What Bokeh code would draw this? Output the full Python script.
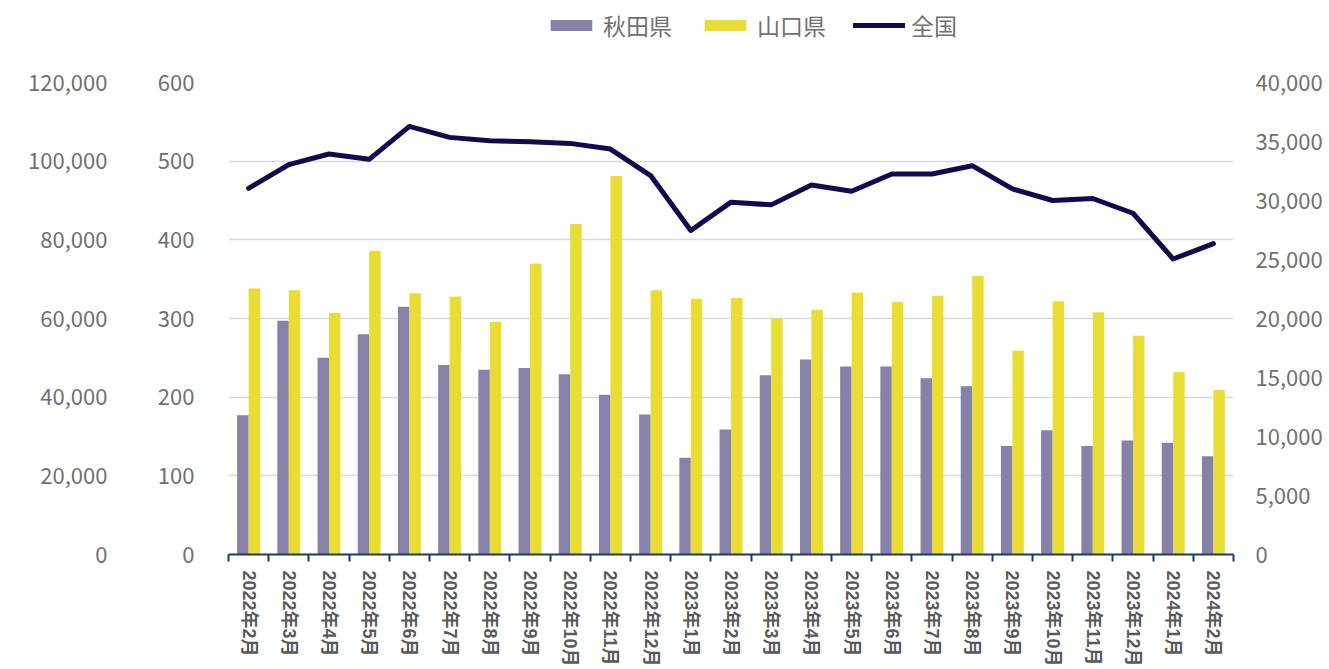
import numpy as np
from bokeh.plotting import figure
from bokeh.layouts import column
from bokeh.models import (Range1d, LinearAxis, FixedTicker, SingleIntervalTicker,
                          NumeralTickFormatter, Legend, LegendItem)
from bokeh.embed import file_html
from bokeh.resources import INLINE

months = ["2022年2月", "2022年3月", "2022年4月", "2022年5月", "2022年6月", "2022年7月",
          "2022年8月", "2022年9月", "2022年10月", "2022年11月", "2022年12月", "2023年1月",
          "2023年2月", "2023年3月", "2023年4月", "2023年5月", "2023年6月", "2023年7月",
          "2023年8月", "2023年9月", "2023年10月", "2023年11月", "2023年12月", "2024年1月",
          "2024年2月"]
akita = [177, 297, 250, 280, 315, 241, 235, 237, 229, 203, 178, 123, 159,
         228, 248, 239, 239, 224, 214, 138, 158, 138, 145, 142, 125]
yamaguchi = [338, 336, 307, 386, 332, 328, 296, 370, 420, 481, 336, 325, 326,
             300, 311, 333, 321, 329, 354, 259, 322, 308, 278, 232, 209]
national = [31035, 33040, 33940, 33490, 36280, 35350, 35070, 34980, 34840, 34360,
            32110, 27460, 29860, 29630, 31320, 30780, 32250, 32250, 32950, 30980,
            30000, 30170, 28920, 25040, 26340]
series_names = ["秋田県", "山口県", "全国"]

x = np.arange(len(months))
n = len(months)

GRAY = "#707070"
YFONT = "Noto Sans CJK JP"
C_AKITA = "#8780A8"
C_YAMA = "#E9DD33"
C_NAT = "#120A4F"

LEG_H = 56

# ---------------- main chart ----------------
p = figure(width=1329, height=669 - LEG_H, output_backend="svg", toolbar_location=None,
           x_range=Range1d(-0.5, n - 0.5), y_range=Range1d(0, 600),
           min_border_left=228, min_border_right=96, min_border_top=82 - LEG_H,
           min_border_bottom=114)
p.extra_y_ranges = {"right": Range1d(0, 40000), "outer": Range1d(0, 120000)}
p.outline_line_color = None
p.xgrid.visible = False

bw = 0.285
p.vbar(x=x - bw / 2, top=akita, width=bw, fill_color=C_AKITA, line_color=None)
p.vbar(x=x + bw / 2, top=yamaguchi, width=bw, fill_color=C_YAMA, line_color=None)
p.line(x=x, y=national, y_range_name="right", line_width=5, line_color=C_NAT,
       line_cap="round", line_join="round")

# x axis
xa = p.xaxis[0]
xa.ticker = FixedTicker(ticks=list(range(n)), minor_ticks=[i - 0.5 for i in range(n + 1)])
xa.major_label_overrides = {i: m for i, m in enumerate(months)}
xa.major_label_orientation = "vertical"
xa.major_tick_line_color = None
xa.major_tick_out = 0
xa.major_tick_in = 0
xa.minor_tick_out = 7
xa.minor_tick_in = 0
xa.minor_tick_line_color = "#1F3864"
xa.minor_tick_line_width = 2
xa.axis_line_color = "#1F3864"
xa.axis_line_width = 2
xa.major_label_standoff = 9
xa.major_label_text_font = "Liberation Sans, Noto Sans CJK JP"
xa.major_label_text_font_style = "bold"
xa.major_label_text_font_size = "18px"
xa.major_label_text_color = "#595959"

# inner left axis 0-600
ya = p.yaxis[0]
ya.ticker = SingleIntervalTicker(interval=100)
p.ygrid[0].ticker = ya.ticker
p.ygrid[0].grid_line_color = "#D9D9D9"
p.ygrid[0].grid_line_width = 1.5
ya.formatter = NumeralTickFormatter(format="0")

# outer left axis 0-120,000
yo = LinearAxis(y_range_name="outer", ticker=SingleIntervalTicker(interval=20000),
                formatter=NumeralTickFormatter(format="0,0"))
p.add_layout(yo, "left")

# right axis 0-40,000
yr = LinearAxis(y_range_name="right", ticker=SingleIntervalTicker(interval=5000),
                formatter=NumeralTickFormatter(format="0,0"))
p.add_layout(yr, "right")

for ax, so in ((ya, 28), (yo, 41), (yr, 16)):
    ax.axis_line_color = None
    ax.major_tick_line_color = None
    ax.minor_tick_line_color = None
    ax.major_label_standoff = so
    ax.major_label_text_font = YFONT
    ax.major_label_text_font_size = "22px"
    ax.major_label_text_color = GRAY

# ---------------- legend strip ----------------
# the same series, hidden, only to feed the legend entries
lg = figure(width=1329, height=LEG_H, output_backend="svg", toolbar_location=None,
            x_range=Range1d(-0.5, n - 0.5), y_range=Range1d(0, 1),
            min_border_left=0, min_border_right=0, min_border_top=0, min_border_bottom=0)
lg.axis.visible = False
lg.grid.visible = False
lg.outline_line_color = None
d1 = lg.vbar(x=x, top=akita, width=bw, fill_color=C_AKITA, line_color=None)
d2 = lg.vbar(x=x, top=yamaguchi, width=bw, fill_color=C_YAMA, line_color=None)
d3 = lg.line(x=x, y=national, line_width=5, line_color=C_NAT, line_cap="round")
for d in (d1, d2, d3):
    d.visible = False

legend = Legend(items=[LegendItem(label=series_names[0], renderers=[d1]),
                       LegendItem(label=series_names[1], renderers=[d2]),
                       LegendItem(label=series_names[2], renderers=[d3])],
                orientation="horizontal", location=(317, 14),
                glyph_width=52, glyph_height=14, label_standoff=6, spacing=27,
                padding=0, margin=0, border_line_color=None,
                background_fill_alpha=0, click_policy="none",
                label_text_font=YFONT, label_text_font_size="23px",
                label_text_color=GRAY)
lg.add_layout(legend, "center")

layout = column(lg, p, spacing=0)
open("out.html", "w").write(file_html(layout, INLINE))
